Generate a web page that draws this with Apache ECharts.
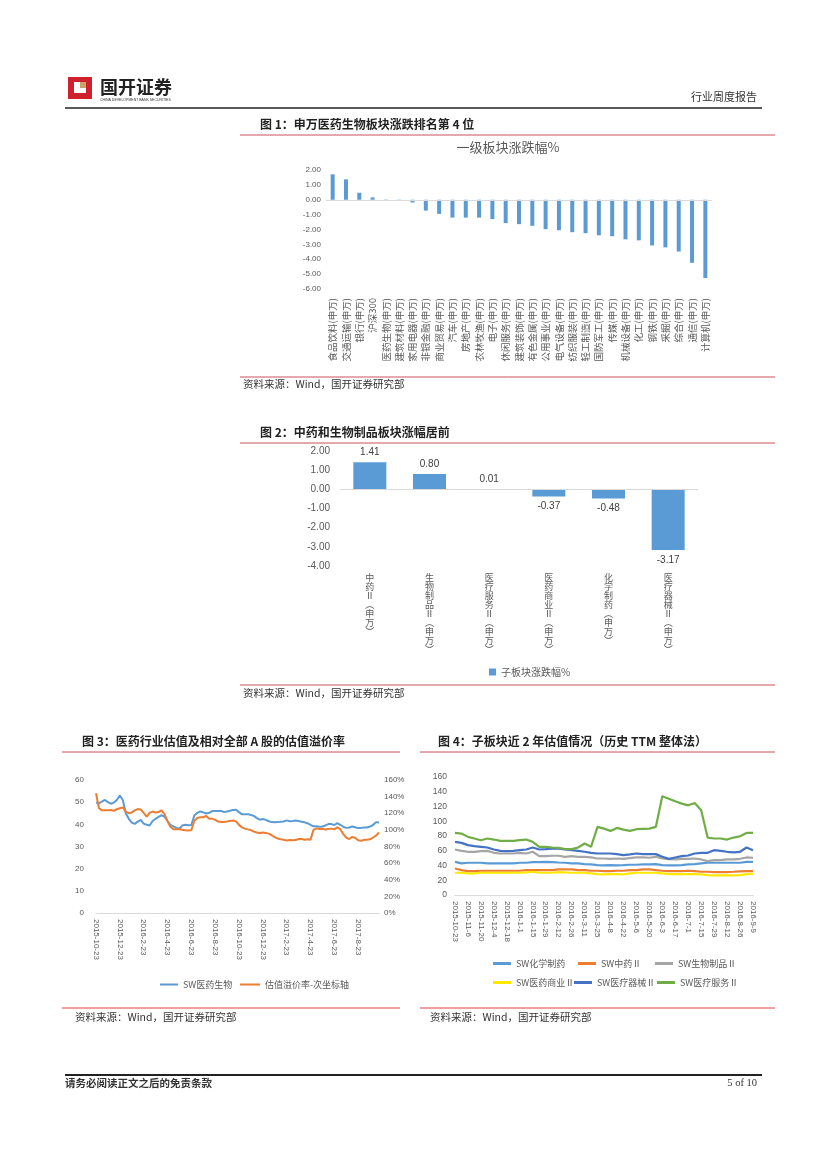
<!DOCTYPE html>
<html><head><meta charset="utf-8">
<script src="https://cdn.jsdelivr.net/npm/echarts/dist/echarts.min.js"></script>
<style>html,body{margin:0;padding:0;background:#fff}#c{width:827px;height:1169px}</style>
</head><body><div id="c"></div><script>
// ---- Chart 1: 一级板块涨跌幅%
const sectorNames = ["食品饮料(申万)","交通运输(申万)","银行(申万)","沪深300","医药生物(申万)","建筑材料(申万)","家用电器(申万)","非银金融(申万)","商业贸易(申万)","汽车(申万)","房地产(申万)","农林牧渔(申万)","电子(申万)","休闲服务(申万)","建筑装饰(申万)","有色金属(申万)","公用事业(申万)","电气设备(申万)","纺织服装(申万)","轻工制造(申万)","国防军工(申万)","传媒(申万)","机械设备(申万)","化工(申万)","钢铁(申万)","采掘(申万)","综合(申万)","通信(申万)","计算机(申万)"];
const sectorChange = [1.71,1.37,0.47,0.16,0.02,-0.03,-0.18,-0.73,-0.95,-1.2,-1.2,-1.2,-1.3,-1.57,-1.64,-1.75,-1.98,-2.05,-2.18,-2.25,-2.39,-2.45,-2.66,-2.73,-3.07,-3.2,-3.48,-4.24,-5.26];

// ---- Chart 2: 子板块涨跌幅%
const subNames = ["中药Ⅱ(申万)","生物制品Ⅱ(申万)","医疗服务Ⅱ(申万)","医药商业Ⅱ(申万)","化学制药(申万)","医疗器械Ⅱ(申万)"];
const subChange = [1.41,0.80,0.01,-0.37,-0.48,-3.17];

// ---- Chart 3: 医药行业估值及溢价率
const c3Dates = ["2015-10-23","2015-11-1","2015-11-8","2015-11-15","2015-11-23","2015-12-1","2015-12-8","2015-12-15","2015-12-23",
"2016-1-1","2016-1-8","2016-1-15","2016-1-23","2016-2-1","2016-2-8","2016-2-15","2016-2-23","2016-3-1","2016-3-8","2016-3-15","2016-3-23","2016-4-1","2016-4-8","2016-4-15","2016-4-23","2016-5-1","2016-5-8","2016-5-15","2016-5-23","2016-6-1","2016-6-8","2016-6-15","2016-6-23","2016-7-1","2016-7-8","2016-7-15","2016-7-23","2016-8-1","2016-8-8","2016-8-15","2016-8-23","2016-9-1","2016-9-8","2016-9-15","2016-9-23","2016-10-1","2016-10-8","2016-10-15","2016-10-23","2016-11-1","2016-11-8","2016-11-15","2016-11-23","2016-12-1","2016-12-8","2016-12-15","2016-12-23",
"2017-1-1","2017-1-8","2017-1-15","2017-1-23","2017-2-1","2017-2-8","2017-2-15","2017-2-23","2017-3-1","2017-3-8","2017-3-15","2017-3-23","2017-4-1","2017-4-8","2017-4-15","2017-4-23","2017-5-1","2017-5-8","2017-5-15","2017-5-23","2017-6-1","2017-6-8","2017-6-15","2017-6-23","2017-7-1","2017-7-8","2017-7-15","2017-7-23","2017-8-1","2017-8-8","2017-8-15","2017-8-23","2017-9-1","2017-9-8","2017-9-15","2017-9-23","2017-10-1","2017-10-8","2017-10-15"];
const swPharmaPE = [49.8,49.5,50.3,51,50,49.3,49.8,51,53,51,45,42.5,40.8,40.2,41.2,42,40.3,39.8,39.5,41.5,42.5,43.4,44.1,43.5,41.5,39.7,39.1,38.4,38,39.5,39.8,39.6,39.7,44,45.2,45.8,45.4,44.9,45.2,46,46,46,46.1,45.5,45.8,46.1,46.5,46.6,45.5,44.5,44.6,44.6,44.2,43.8,42.8,42.1,42.4,42,41.4,41,40.9,41,41.2,41.3,41.8,41.4,41.5,41.7,41.5,41.2,40.9,40.5,39.8,39.1,39.1,38.9,39,39.5,40.1,40.1,39.7,40.5,39.8,38.9,38.4,38.6,39,38.7,38.3,38.4,38.6,38.6,39,39.7,41,40.8];
const premiumPct = [144,126,123.5,123.5,123.5,123.8,123,124.8,126,127,122,120,121,123.5,125,124.5,120.5,116,120.5,122,121,121.5,123.5,119,110.5,103.5,100.8,100.8,100.8,100.2,99.5,99.2,99.5,111,114.2,115.2,115.2,116.8,113.5,113.5,112,110,109.6,109.6,110,110.8,111.2,110.2,106,103,101.5,100.6,99.8,98,96.8,96,96.8,96.2,95.5,93.5,91.2,89.6,88.6,88,87.3,87.8,87.4,87.7,89,89.2,88.2,88.6,88,100,101.8,101,101.3,100.4,101,101.5,100.6,103,100.8,95,90.8,89,91.5,90.5,87.5,87,88,88,88.7,90.8,93,97];

// ---- Chart 4: 子板块近2年估值
const c4Dates = ["2015-10-23","2015-10-30","2015-11-6","2015-11-13","2015-11-20","2015-11-27","2015-12-4","2015-12-11","2015-12-18","2015-12-25","2016-1-1","2016-1-8","2016-1-15","2016-1-22","2016-1-29","2016-2-5","2016-2-12","2016-2-19","2016-2-26","2016-3-4","2016-3-11","2016-3-18","2016-3-25","2016-4-1","2016-4-8","2016-4-15","2016-4-22","2016-4-29","2016-5-6","2016-5-13","2016-5-20","2016-5-27","2016-6-3","2016-6-10","2016-6-17","2016-6-24","2016-7-1","2016-7-8","2016-7-15","2016-7-22","2016-7-29","2016-8-5","2016-8-12","2016-8-19","2016-8-26","2016-9-2","2016-9-9"];
const peChemPharma = [45,42.8,43.7,43.7,43.7,42.8,42.8,42.8,42.8,42.8,43.7,43.7,44.6,44.6,45,44.6,44.1,43.7,42.8,42.8,41.9,41.4,40.5,40.1,40.5,40.1,40.5,41,41,41.4,41.4,41.9,40.5,40.1,40.1,40.5,41.4,41.9,42.8,43.7,43.7,43.7,43.7,43.7,43.7,45,45];
const peTCM = [36,33.8,32.4,32.4,32.9,32.9,32.9,32.9,32.9,32.9,32.9,33.8,33.8,33.8,33.8,33.8,34.7,34.7,34.7,33.8,33.8,32.9,32.9,32.4,32.4,32.9,32.9,33.8,33.8,34.7,34.7,33.8,32.9,32.4,32.4,32.4,32.9,32.4,31.5,31.5,31.1,31.1,31.1,31.5,32,32.4,32.4];
const peBio = [61.7,59.9,58.6,58.6,59.5,59.9,57.2,56.3,56.3,56.3,57.2,56.3,58.6,52.7,52.7,53.2,53.2,51.8,52.7,51.8,51.8,50.9,49.5,49.5,49.1,49.5,49.1,50,50.9,50.9,50.5,51.8,49.5,48.6,48.2,49.1,49.1,49.5,48.2,45.9,47.3,47.3,48.2,48.2,49.1,50.9,50.5];
const peCommerce = [30.2,30.2,29.3,29.3,30.2,30.2,30.2,30.2,30.2,30.2,30.2,30.6,31.5,30.2,30.2,30.2,31.1,30.6,30.2,30.2,30.2,29.3,28.4,27.9,28.4,28.4,27.9,29.3,30.2,30.2,30.2,30.2,29.3,28.4,28.4,28.4,28.4,28.4,27.9,27,26.6,26.6,26.6,26.6,27,28.4,28.8];
const peDevice = [72,70.7,67.6,66.2,65.3,64.4,61.7,59.9,59.5,59.9,60.8,61.7,64.4,61.7,62.2,63,63,61.7,60.8,59.9,58.6,57.2,56.3,56.3,56.3,55.4,54,55,56.3,55.4,55.4,55.4,51.8,49,50.9,52.7,53.6,56.3,57.2,57.2,60.8,59.9,58.6,57.7,58.6,64.4,60.8];
const peService = [84.2,83.3,78.8,76.6,74.3,76.6,75.2,73.4,73.4,73.4,74.3,75.2,72,65.3,65.3,64.4,64,62.2,62.2,64.4,69.8,65.3,92.3,90,86.9,91,88.7,86.9,89.2,89.6,90,92.3,133.8,130.6,127,123.9,121.6,124.8,114.9,77.9,76.6,76.6,75.2,77.9,79.7,84.2,84.2];

const c4Names = ["SW化学制药","SW中药Ⅱ","SW生物制品Ⅱ","SW医药商业Ⅱ","SW医疗器械Ⅱ","SW医疗服务Ⅱ"];
const c4Colors = ["#5B9BD5","#ED7D31","#A5A5A5","#FFE800","#4472C4","#70AD47"];
const c4Data = [peChemPharma, peTCM, peBio, peCommerce, peDevice, peService];

const FF = '"Liberation Sans","Noto Sans CJK SC",sans-serif';
const CJK = '"Noto Sans CJK SC",sans-serif';
const LBL = '#595959';
const PINK = '#C8505A';

function txt(text, x, y, opt) {
  opt = opt || {};
  return {type:'text', silent:true, style:{text:text, x:x, y:y, fill:opt.fill||'#222',
    font:(opt.weight||'normal')+' '+(opt.size||10)+'px '+(opt.family||CJK),
    textAlign:opt.align||'left', textVerticalAlign:'middle'}};
}
function hline(x1, x2, y, color, w) {
  return {type:'line', silent:true, shape:{x1:x1,y1:y,x2:x2,y2:y}, style:{stroke:color, lineWidth:w||1}};
}

const graphics = [
  // header logo
  {type:'rect', silent:true, shape:{x:68,y:77,width:24,height:22}, style:{fill:'#D0202E'}},
  {type:'rect', silent:true, shape:{x:74,y:82,width:12,height:11}, style:{fill:'#fff'}},
  {type:'rect', silent:true, shape:{x:80,y:82,width:6,height:6}, style:{fill:'#C9A36A'}},
  txt('国开证券', 100, 87, {size:18, weight:'bold', fill:'#222'}),
  txt('CHINA DEVELOPMENT BANK SECURITIES', 100, 100, {size:3.5, family:FF, fill:'#333'}),
  txt('行业周度报告', 757, 97, {size:11, align:'right', fill:'#333'}),
  hline(65, 762, 108, '#222', 1.5),
  // chart 1 frame
  txt('图 1：申万医药生物板块涨跌排名第 4 位', 260, 124, {size:12, weight:'bold'}),
  hline(240, 775, 135, PINK, 1),
  txt('一级板块涨跌幅%', 508, 147, {size:13, fill:'#595959', align:'center'}),
  hline(240, 775, 377, PINK, 1),
  txt('资料来源：Wind，国开证券研究部', 243, 384, {size:10.5, fill:'#333'}),
  // chart 2 frame
  txt('图 2：中药和生物制品板块涨幅居前', 260, 432, {size:12, weight:'bold'}),
  hline(240, 775, 443, PINK, 1),
  hline(240, 775, 685, PINK, 1),
  txt('资料来源：Wind，国开证券研究部', 243, 693, {size:10.5, fill:'#333'}),
  // chart 3 / 4 frames
  txt('图 3：医药行业估值及相对全部 A 股的估值溢价率', 82, 741, {size:12, weight:'bold'}),
  hline(62, 400, 752, PINK, 1),
  txt('图 4：子板块近 2 年估值情况（历史 TTM 整体法）', 438, 741, {size:12, weight:'bold'}),
  hline(420, 775, 752, PINK, 1),
  hline(62, 400, 1008, '#E0404A', 1),
  hline(420, 775, 1008, '#E0404A', 1),
  txt('资料来源：Wind，国开证券研究部', 75, 1017, {size:10.5, fill:'#333'}),
  txt('资料来源：Wind，国开证券研究部', 430, 1017, {size:10.5, fill:'#333'}),
  // footer
  hline(65, 762, 1075, '#222', 2),
  txt('请务必阅读正文之后的免责条款', 65, 1083, {size:10.5, weight:'bold', fill:'#333'}),
  txt('5 of 10', 757, 1083, {size:10.5, align:'right', family:'"Liberation Serif",serif', fill:'#333'})
];

function verticalLabel(v) {
  return v.split('').map(c => c === '(' ? '︵' : (c === ')' ? '︶' : c)).join('\n');
}

const legendBase = {orient:'horizontal', itemGap:8, selectedMode:false,
  textStyle:{fontSize:9, color:LBL, fontFamily:CJK}};

const legends = [
  Object.assign({}, legendBase, {data:['子板块涨跌幅%'], left:484, top:662, icon:'rect', itemWidth:7, itemHeight:7,
    textStyle:{fontSize:10, color:LBL, fontFamily:CJK}}),
  Object.assign({}, legendBase, {data:['SW医药生物'], left:155, top:975, icon:'rect', itemWidth:18, itemHeight:2}),
  Object.assign({}, legendBase, {data:['估值溢价率-次坐标轴'], left:235, top:975, icon:'rect', itemWidth:20, itemHeight:2})
];
const c4LegendPos = [[488,954],[573,954],[650,954],[488,973],[569,973],[652,973]];
c4Names.forEach((n, i) => {
  legends.push(Object.assign({}, legendBase, {data:[n], left:c4LegendPos[i][0], top:c4LegendPos[i][1],
    icon:'rect', itemWidth:18, itemHeight:3}));
});

const axisLbl = {color:LBL, fontFamily:FF};

const option = {
  animation:false,
  backgroundColor:'#fff',
  graphic:graphics,
  legend:legends,
  grid:[
    {left:326, top:170, width:386, height:119},
    {left:340, top:451, width:358, height:115},
    {left:96, top:780, width:283, height:133},
    {left:455, top:777, width:298, height:118}
  ],
  xAxis:[
    {type:'category', gridIndex:0, data:sectorNames, axisLine:{show:false}, axisTick:{show:false},
     axisLabel:Object.assign({}, axisLbl, {rotate:90, fontSize:9.5, margin:9, interval:0, fontFamily:CJK})},
    {type:'category', gridIndex:1, data:subNames, axisLine:{show:false}, axisTick:{show:false},
     axisLabel:Object.assign({}, axisLbl, {fontSize:9, lineHeight:9, margin:7, interval:0, fontFamily:CJK, formatter:verticalLabel})},
    {type:'category', gridIndex:2, data:c3Dates, boundaryGap:false, axisLine:{lineStyle:{color:'#D9D9D9'}}, axisTick:{show:false},
     axisLabel:Object.assign({}, axisLbl, {rotate:-90, fontSize:8, margin:6, interval:7})},
    {type:'category', gridIndex:3, data:c4Dates, boundaryGap:false, axisLine:{lineStyle:{color:'#D9D9D9'}}, axisTick:{show:false},
     axisLabel:Object.assign({}, axisLbl, {rotate:-90, fontSize:8, margin:6, interval:1})}
  ],
  yAxis:[
    {type:'value', gridIndex:0, min:-6, max:2, interval:1, splitLine:{show:false}, axisLine:{show:false}, axisTick:{show:false},
     axisLabel:Object.assign({}, axisLbl, {fontSize:8, margin:5, formatter:v => v.toFixed(2)})},
    {type:'value', gridIndex:1, min:-4, max:2, interval:1, splitLine:{show:false}, axisLine:{show:false}, axisTick:{show:false},
     axisLabel:Object.assign({}, axisLbl, {fontSize:10, margin:10, formatter:v => v.toFixed(2)})},
    {type:'value', gridIndex:2, min:0, max:60, interval:10, splitLine:{show:false}, axisLine:{show:false}, axisTick:{show:false},
     axisLabel:Object.assign({}, axisLbl, {fontSize:8, margin:12})},
    {type:'value', gridIndex:2, position:'right', min:0, max:160, interval:20, splitLine:{show:false}, axisLine:{show:false}, axisTick:{show:false},
     axisLabel:Object.assign({}, axisLbl, {fontSize:8, margin:5, formatter:v => v + '%'})},
    {type:'value', gridIndex:3, min:0, max:160, interval:20, splitLine:{show:false}, axisLine:{show:false}, axisTick:{show:false},
     axisLabel:Object.assign({}, axisLbl, {fontSize:8.5, margin:8})}
  ],
  series:[
    {type:'bar', name:'一级板块涨跌幅%', xAxisIndex:0, yAxisIndex:0, data:sectorChange, barWidth:4,
     itemStyle:{color:'#5B9BD5'},
     markLine:{silent:true, symbol:'none', label:{show:false}, lineStyle:{color:'#D9D9D9', type:'solid', width:1}, data:[{yAxis:0}]}},
    {type:'bar', name:'子板块涨跌幅%', xAxisIndex:1, yAxisIndex:1, barWidth:33,
     data:subChange.map(v => ({value:v, label:{position: v >= 0 ? 'top' : 'bottom'}})),
     itemStyle:{color:'#5B9BD5'},
     label:{show:true, fontSize:10, color:'#404040', fontFamily:FF, distance:5, formatter:p => p.value.toFixed(2)},
     markLine:{silent:true, symbol:'none', label:{show:false}, lineStyle:{color:'#D9D9D9', type:'solid', width:1}, data:[{yAxis:0}]}},
    {type:'line', name:'SW医药生物', xAxisIndex:2, yAxisIndex:2, data:swPharmaPE, symbol:'none',
     lineStyle:{width:2, color:'#5B9BD5'}, itemStyle:{color:'#5B9BD5'}},
    {type:'line', name:'估值溢价率-次坐标轴', xAxisIndex:2, yAxisIndex:3, data:premiumPct, symbol:'none',
     lineStyle:{width:2, color:'#ED7D31'}, itemStyle:{color:'#ED7D31'}}
  ].concat(c4Names.map((n, i) => ({type:'line', name:n, xAxisIndex:3, yAxisIndex:4, data:c4Data[i], symbol:'none',
     lineStyle:{width:2.2, color:c4Colors[i]}, itemStyle:{color:c4Colors[i]}})))
};

const chart = echarts.init(document.getElementById('c'), null, {renderer:'canvas'});
chart.setOption(option);
</script></body></html>
